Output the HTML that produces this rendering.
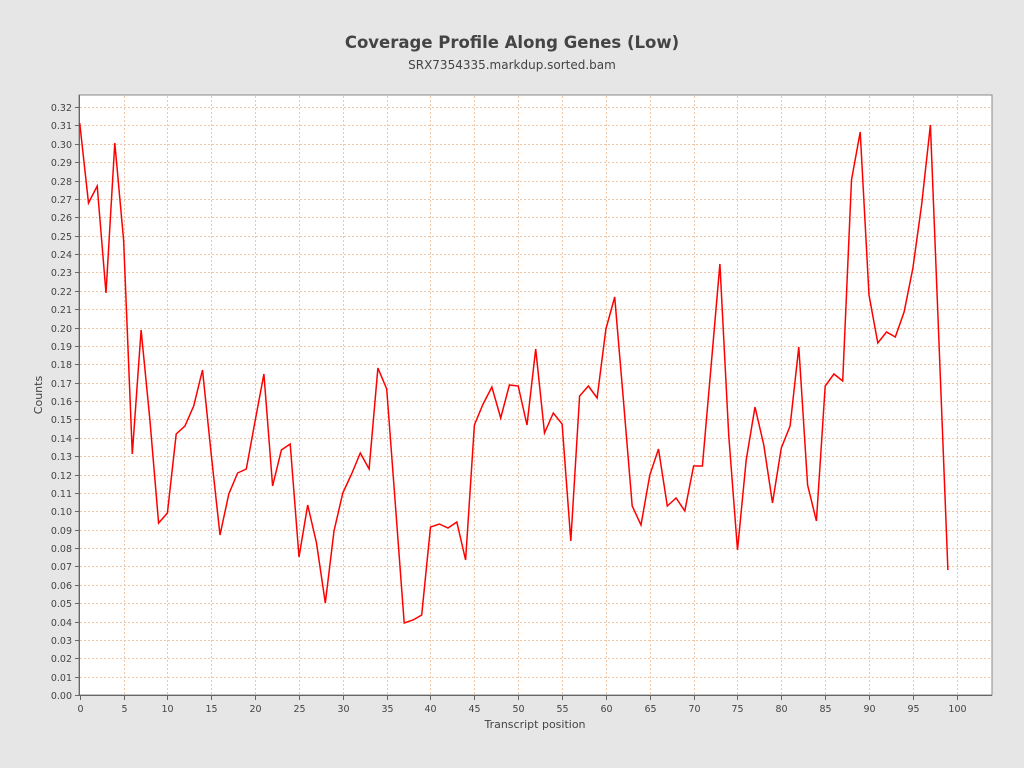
<!DOCTYPE html>
<html><head><meta charset="utf-8"><style>
html,body{margin:0;padding:0;background:#e6e6e6;}
svg{display:block;font-family:"DejaVu Sans","Liberation Sans",sans-serif;}
</style></head><body>
<svg width="1024" height="768" viewBox="0 0 1024 768" xmlns="http://www.w3.org/2000/svg">
<rect width="1024" height="768" fill="#e6e6e6"/>
<text x="512" y="48" text-anchor="middle" font-size="16.5" font-weight="bold" fill="#444">Coverage Profile Along Genes (Low)</text>
<text x="512" y="69" text-anchor="middle" font-size="12" fill="#444">SRX7354335.markdup.sorted.bam</text>
<rect x="79" y="95" width="913" height="600" fill="#fff" stroke="#888" stroke-width="1"/>
<g stroke="#f0c8a8" stroke-width="1" stroke-dasharray="2,2" id="grid"></g>
<g font-size="9.5" fill="#444" text-anchor="end" id="ylab"></g>
<g font-size="9.5" fill="#444" text-anchor="middle" id="xlab"></g>
<line x1="79.5" y1="95" x2="79.5" y2="696" stroke="#666"/>
<line x1="79" y1="695.5" x2="992" y2="695.5" stroke="#666"/>
<text x="535" y="728" text-anchor="middle" font-size="11" fill="#444">Transcript position</text>
<text x="42" y="395" text-anchor="middle" font-size="11" fill="#444" transform="rotate(-90 42 395)">Counts</text>
<polyline fill="none" stroke="#ff0000" stroke-width="1.5" points="79.7,123 88.5,203 97.2,186 106,293 114.8,143 123.6,240 132.3,454 141.1,330 149.9,420 158.6,523 167.4,513 176.2,434 184.9,426 193.7,406 202.5,370 211.3,455 220,535 228.8,494 237.6,473 246.3,469 255.1,421 263.9,374 272.6,486 281.4,450 290.2,444 299,557 307.7,505 316.5,543 325.3,603 334,531 342.8,493 351.6,474 360.3,453 369.1,469 377.9,368 386.7,389 395.4,505 404.2,623 413,620 421.7,615 430.5,527 439.3,524 448,528 456.8,522 465.6,560 474.4,425 483.1,404 491.9,387 500.7,418 509.4,385 518.2,386 527,425 535.7,349 544.5,433 553.3,413 562.1,424 570.8,541 579.6,396 588.4,386 597.1,398 605.9,329 614.7,297 623.4,400 632.2,506 641,525 649.8,475 658.5,449 667.3,506 676.1,498 684.8,511 693.6,466 702.4,466 711.1,366 719.9,264 728.7,435 737.5,550 746.2,460 755,407 763.8,445 772.5,503 781.3,448 790.1,426 798.8,347 807.6,485 816.4,521 825.2,386 833.9,374 842.7,381 851.5,180 860.2,132 869,295 877.8,343 886.5,332 895.3,337 904.1,312 912.9,268 921.6,205 930.4,125 939.2,348 947.9,570"/>
<script>
var ns="http://www.w3.org/2000/svg";
var g=document.getElementById("grid"),yl=document.getElementById("ylab"),xl=document.getElementById("xlab");
var svg=g.ownerSVGElement;
function el(t,a,p){var e=document.createElementNS(ns,t);for(var k in a)e.setAttribute(k,a[k]);p.appendChild(e);return e;}
for(var k=0;k<=32;k++){var y=695-k*18.375;y=Math.round(y)+0.5;
 if(k>0)el("line",{x1:80,y1:y,x2:991,y2:y},g);
 el("line",{x1:75,y1:y,x2:79,y2:y,stroke:"#666"},svg);
 var t=el("text",{x:72,y:y+3.5},yl);t.textContent=(k/100).toFixed(2);}
for(var i=0;i<=100;i+=5){var x=Math.round(79.7+i*8.77)+0.5;
 if(i>0)el("line",{x1:x,y1:96,x2:x,y2:694},g);
 el("line",{x1:x,y1:696,x2:x,y2:700,stroke:"#666"},svg);
 var t=el("text",{x:x,y:712},xl);t.textContent=i;}
</script>
</svg>
</body></html>
